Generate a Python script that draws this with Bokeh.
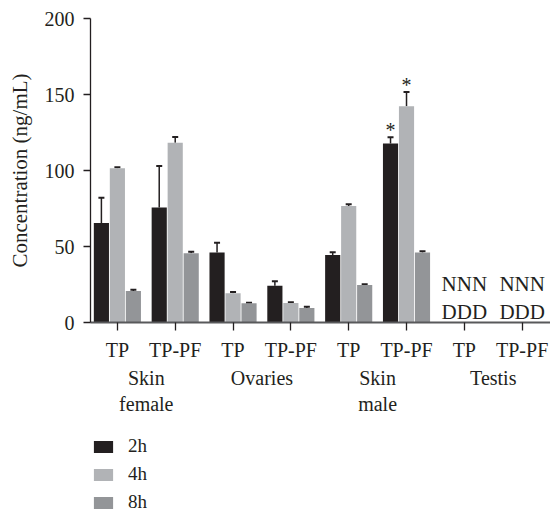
from bokeh.plotting import figure
from bokeh.layouts import column
from bokeh.models import (Range1d, FixedTicker, LinearAxis, Whisker, TeeHead,
                          Legend, LegendItem, ColumnDataSource)
from bokeh.transform import dodge
from bokeh.core.properties import value
from bokeh.embed import file_html
from bokeh.resources import INLINE

# ---------------- data ----------------
formulations = ["TP", "TP-PF", "TP", "TP-PF", "TP", "TP-PF", "TP", "TP-PF"]
tissues = ["Skin\nfemale", "Ovaries", "Skin\nmale", "Testis"]
series = ["2h", "4h", "8h"]
mean_2h = [65.5, 75.7, 46.0, 24.1, 44.4, 117.8, None, None]
sd_2h = [16.5, 27.3, 6.5, 3.1, 1.8, 4.1, None, None]
mean_4h = [101.5, 118.2, 19.3, 12.9, 76.6, 142.2, None, None]
sd_4h = [0.7, 3.9, 0.8, 0.4, 1.2, 9.4, None, None]
mean_8h = [20.8, 45.5, 12.7, 9.6, 24.7, 46.0, None, None]
sd_8h = [0.8, 1.0, 0.3, 0.7, 0.5, 0.9, None, None]
sig_2h = ["", "", "", "", "", "*", "", ""]
sig_4h = ["", "", "", "", "", "*", "", ""]
sig_8h = ["", "", "", "", "", "", "", ""]
nd_label = ["", "", "", "", "", "", "NNN\nDDD", "NNN\nDDD"]
y_ticks = [0, 50, 100, 150, 200]

colors = ["#231f20", "#b1b3b6", "#939598"]
offsets = [-0.2765, 0.0, 0.2765]
bar_width = 0.262
FONT = "Liberation Serif"
TXT = "#231f20"

p = figure(width=550, height=425,
           x_range=Range1d(-0.465, 7.49), y_range=Range1d(0, 200),
           output_backend="svg", toolbar_location=None,
           min_border_left=90, min_border_right=0, min_border_top=18,
           min_border_bottom=103)
p.outline_line_color = None
p.xgrid.grid_line_color = None
p.ygrid.grid_line_color = None
p.background_fill_color = "white"
p.border_fill_color = "white"

# y axis
ya = p.yaxis[0]
ya.ticker = FixedTicker(ticks=y_ticks)
ya.minor_tick_line_color = None
ya.major_tick_in = 0
ya.major_tick_out = 7
ya.major_tick_line_color = "#231f20"
ya.major_tick_line_width = 1.3
ya.axis_line_color = "#231f20"
ya.axis_line_width = 1.3
ya.major_label_standoff = 9
ya.major_label_text_font = FONT
ya.major_label_text_font_size = "20px"
ya.major_label_text_color = TXT
ya.axis_label = "Concentration (ng/mL)"
ya.axis_label_text_font = FONT
ya.axis_label_text_font_style = "normal"
ya.axis_label_text_font_size = "21px"
ya.axis_label_text_color = TXT
ya.axis_label_standoff = 10

# x axis: formulations
xa = p.xaxis[0]
xa.ticker = FixedTicker(ticks=list(range(len(formulations))))
xa.major_label_overrides = {i: f for i, f in enumerate(formulations)}
xa.minor_tick_line_color = None
xa.major_tick_in = 0
xa.major_tick_out = 8
xa.major_tick_line_color = "#231f20"
xa.major_tick_line_width = 1.3
xa.axis_line_color = "#58595b"
xa.axis_line_width = 2
xa.major_label_standoff = 8
xa.major_label_text_font = FONT
xa.major_label_text_font_size = "20px"
xa.major_label_text_color = TXT

# x axis: tissue groups
group_centers = [2 * i + 0.5 for i in range(len(tissues))]
ga = LinearAxis(ticker=FixedTicker(ticks=group_centers),
                major_label_overrides={c: t for c, t in zip(group_centers, tissues)})
ga.axis_line_color = None
ga.major_tick_line_color = None
ga.minor_tick_line_color = None
ga.major_tick_in = 0
ga.major_tick_out = 0
ga.major_label_standoff = 3
ga.major_label_text_font = FONT
ga.major_label_text_font_size = "20px"
ga.major_label_text_color = TXT
p.add_layout(ga, "below")

means = [mean_2h, mean_4h, mean_8h]
sds = [sd_2h, sd_4h, sd_8h]
sigs = [sig_2h, sig_4h, sig_8h]
sources = []
for name, m, s, sg, col, off in zip(series, means, sds, sigs, colors, offsets):
    idx = [i for i, v in enumerate(m) if v is not None]
    src = ColumnDataSource(dict(
        x=idx,
        top=[m[i] for i in idx],
        upper=[m[i] + s[i] for i in idx],
        sig=[sg[i] for i in idx],
    ))
    sources.append(src)
    p.vbar(x=dodge("x", off, range=p.x_range), top="top", width=bar_width,
           bottom=0, source=src, fill_color=col, line_color=None)
    w = Whisker(base=dodge("x", off, range=p.x_range), upper="upper", lower="top",
                source=src, dimension="height", line_color="#231f20", line_width=1.5,
                upper_head=TeeHead(size=6, line_color="#231f20", line_width=2),
                lower_head=None)
    p.add_layout(w)
    p.text(x=dodge("x", off, range=p.x_range), y="upper", text="sig", source=src,
           text_font=value(FONT), text_font_size="20px", text_color=TXT,
           text_align="center", text_baseline="alphabetic", y_offset=-7)

# ND labels
nd_idx = [i for i, t in enumerate(nd_label) if t]
nd_src = ColumnDataSource(dict(x=nd_idx, y=[0] * len(nd_idx),
                               t=[nd_label[i] for i in nd_idx]))
p.text(x="x", y="y", text="t", source=nd_src, text_font=value(FONT),
       text_font_size="21px", text_color=TXT, text_align="center",
       text_baseline="bottom", y_offset=2, text_line_height=1.2)

# ---------------- legend (separate strip below the chart) ----------------
# the strip's own range shows none of the bars; its renderers only feed the legend
lg = figure(width=550, height=88, output_backend="svg", toolbar_location=None,
            x_range=Range1d(-100, -99), y_range=Range1d(0, 1),
            x_axis_type=None, y_axis_type=None, min_border=0)
lg.outline_line_color = None
lg.xgrid.grid_line_color = None
lg.ygrid.grid_line_color = None
lg.background_fill_color = "white"
lg.border_fill_color = "white"
items = []
for name, col, src in zip(series, colors, sources):
    r = lg.vbar(x="x", top="top", width=bar_width, source=src,
                fill_color=col, line_color=None)
    items.append(LegendItem(label=name, renderers=[r]))

legend = Legend(items=items, location=(1, 0), orientation="vertical",
                glyph_width=24, glyph_height=15, label_standoff=13,
                spacing=6, padding=0, margin=0,
                border_line_color=None, background_fill_alpha=0,
                label_text_font=FONT, label_text_font_size="19px",
                label_text_color=TXT)
lg.add_layout(legend, "center")

layout = column(p, lg, spacing=0)
open("out.html", "w").write(file_html(layout, INLINE))
